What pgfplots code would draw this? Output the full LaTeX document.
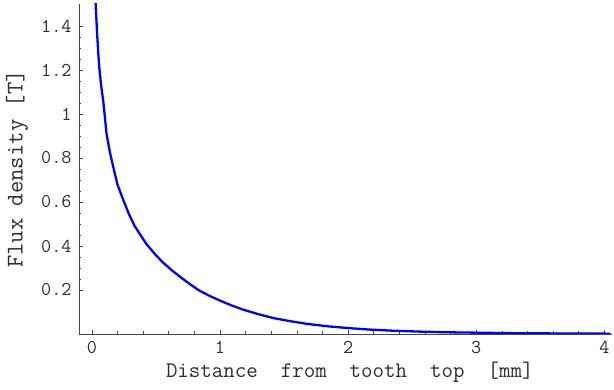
\documentclass[border=0pt]{standalone}
\usepackage{pgfplots}
\pgfplotsset{compat=1.18}
\usepackage{fontspec}
\definecolor{axgray}{RGB}{70,70,70}
\definecolor{txtgray}{RGB}{45,45,45}
\begin{document}
\begin{tikzpicture}
\begin{axis}[
  scale only axis,
  width=533pt, height=330pt,
  xmin=-0.1, xmax=4.06,
  ymin=0, ymax=1.5,
  axis x line=bottom, axis y line=left,
  axis line style={-, axgray, line width=0.8pt},
  xtick={0,1,2,3,4},
  ytick={0.2,0.4,0.6,0.8,1,1.2,1.4},
  yticklabels={0.2,0.4,0.6,0.8,1,1.2,1.4},
  xticklabels={0,1,2,3,4},
  minor x tick num=4,
  minor y tick num=3,
  tick align=inside,
  major tick length=4pt,
  minor tick length=2.5pt,
  tick style={axgray, line width=0.6pt},
  /pgf/number format/assume math mode=true,
  ticklabel style={font=\ttfamily\fontsize{19.6}{22}\selectfont, text=txtgray},
  yticklabel style={xshift=-4pt},
  xticklabel style={yshift=-4pt},
  xlabel={Distance\ \ from\ \ tooth\ \ top\ \ [mm]},
  ylabel={Flux density [T]},
  xlabel style={at={(axis description cs:0.508,-0.115)}, anchor=center, font=\ttfamily\fontsize{22.3}{26}\selectfont, text=txtgray},
  ylabel style={at={(axis description cs:-0.1163,0.5)}, anchor=center, rotate=0, font=\ttfamily\fontsize{24}{28}\selectfont, text=txtgray},
  clip=true,
]
\addplot[blue, line width=2.3pt] coordinates {
(0.025,1.57) (0.03,1.50) (0.04,1.38) (0.05,1.28) (0.06,1.20) (0.075,1.12)
(0.09,1.055) (0.115,0.91) (0.14,0.83) (0.165,0.765) (0.20,0.68)
(0.245,0.61) (0.29,0.545) (0.335,0.49) (0.38,0.45) (0.425,0.41)
(0.49,0.365) (0.555,0.325) (0.63,0.287) (0.70,0.255) (0.77,0.225)
(0.84,0.197) (0.92,0.173) (1.0,0.152) (1.09,0.13) (1.18,0.111)
(1.30,0.09) (1.42,0.072) (1.55,0.058) (1.68,0.046) (1.84,0.035)
(2.0,0.027) (2.17,0.02) (2.35,0.015) (2.55,0.011) (2.75,0.008)
(3.0,0.006) (3.25,0.004) (3.5,0.003) (3.75,0.002) (4.05,0.0015)
};
\end{axis}
\pgfresetboundingbox
\path[use as bounding box] (-79pt,-56pt) rectangle (535pt,334pt);
\end{tikzpicture}
\end{document}
